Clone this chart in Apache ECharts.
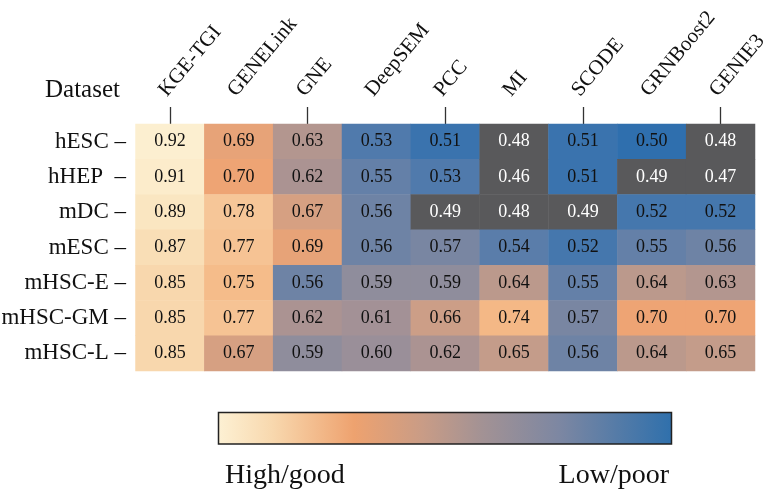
<!DOCTYPE html>
<html>
<head>
<meta charset="utf-8">
<script src="https://cdn.jsdelivr.net/npm/echarts@6.0.0/dist/echarts.min.js"></script>
<style>html,body{margin:0;padding:0;background:#fff}#c{width:766px;height:494px}</style>
</head>
<body>
<div id="c"></div>
<script>
// ---- data ----
const methods = ['KGE-TGI', 'GENELink', 'GNE', 'DeepSEM', 'PCC', 'MI', 'SCODE', 'GRNBoost2', 'GENIE3'];
const datasets = ['hESC', 'hHEP', 'mDC', 'mESC', 'mHSC-E', 'mHSC-GM', 'mHSC-L'];
const rowTickLabels = ['hESC –', 'hHEP  –', 'mDC –', 'mESC –', 'mHSC-E –', 'mHSC-GM –', 'mHSC-L –'];
// values per method, in dataset order
const kgeTgi   = [0.92, 0.91, 0.89, 0.87, 0.85, 0.85, 0.85];
const geneLink = [0.69, 0.70, 0.78, 0.77, 0.75, 0.77, 0.67];
const gne      = [0.63, 0.62, 0.67, 0.69, 0.56, 0.62, 0.59];
const deepSem  = [0.53, 0.55, 0.56, 0.56, 0.59, 0.61, 0.60];
const pcc      = [0.51, 0.53, 0.49, 0.57, 0.59, 0.66, 0.62];
const mi       = [0.48, 0.46, 0.48, 0.54, 0.64, 0.74, 0.65];
const scode    = [0.51, 0.51, 0.49, 0.52, 0.55, 0.57, 0.56];
const grnBoost2= [0.50, 0.49, 0.52, 0.55, 0.64, 0.70, 0.64];
const genie3   = [0.48, 0.47, 0.52, 0.56, 0.63, 0.70, 0.65];
const colorbarLabels = ['High/good', 'Low/poor'];
const scaleMin = 0.44, goodMin = 0.50, scaleMax = 0.92;

// ---- styles ----
const serif = '"Liberation Serif", "Times New Roman", serif';
// colour stops every 0.02 from scaleMin to scaleMax
const rampColors = ['#2f6fae','#2f6fae','#2f6fae',
  '#2f6fae','#4577ad','#5a7daa','#6e83a5','#848a9f','#9a8f99','#ab9392','#bb998c',
  '#cc9e87','#e0a17c','#eea474','#f2ae7c','#f4b886','#f5c08f','#f6c698','#f7cda0','#f7d1a5',
  '#f8d5aa','#f8d9b0','#f9e2bc','#fbe9c6','#fcefd0'];

const columns = [kgeTgi, geneLink, gne, deepSem, pcc, mi, scode, grnBoost2, genie3];
const cells = [];
columns.forEach((col, ci) => col.forEach((v, ri) => {
  cells.push({ value: [ci, ri, v], label: { color: v < goodMin ? '#ffffff' : '#111111' } });
}));

const chart = echarts.init(document.getElementById('c'), null, { renderer: 'canvas' });
chart.setOption({
  animation: false,
  backgroundColor: '#ffffff',
  grid: { left: 135.5, right: 11, top: 124, bottom: 123, containLabel: false, outerBoundsMode: 'none' },
  xAxis: {
    type: 'category', data: methods, position: 'top',
    axisLine: { show: false },
    axisTick: { show: true, alignWithLabel: true, length: 17, lineStyle: { color: '#333', width: 1.3 } },
    axisLabel: { show: false },
    splitLine: { show: false }
  },
  yAxis: {
    type: 'category', data: datasets, inverse: true,
    axisLine: { show: false }, axisTick: { show: false },
    axisLabel: {
      margin: 9.5, fontFamily: serif, fontSize: 23, color: '#111', interval: 0,
      formatter: (val, idx) => rowTickLabels[idx]
    },
    splitLine: { show: false }
  },
  visualMap: {
    type: 'continuous', show: false, dimension: 2,
    min: scaleMin, max: scaleMax, range: [goodMin, scaleMax],
    inRange: { color: rampColors },
    outOfRange: { color: '#59595b' }
  },
  series: [{
    type: 'heatmap', data: cells,
    itemStyle: { borderWidth: 0 },
    label: {
      show: true, fontFamily: serif, fontSize: 18,
      formatter: p => p.value[2].toFixed(2)
    },
    emphasis: { disabled: true }
  }]
});

// rotated column (method) labels, anchored at each category's tick through the x scale
const labelAngle = 50 * Math.PI / 180;
const colLabelEls = methods.map((m, i) => {
  const px = chart.convertToPixel({ xAxisIndex: 0, yAxisIndex: 0 }, [i, 0]);
  return {
    type: 'text', x: px[0] + 1, y: 100.5, rotation: labelAngle,
    style: { text: m, x: 0, y: 0, align: 'left', verticalAlign: 'bottom',
      font: '21px ' + serif, fill: '#111' }
  };
});

chart.setOption({
  graphic: [
    { type: 'text', left: 45, top: 78, style: { text: 'Dataset', font: '25px ' + serif, fill: '#111' } },
    { type: 'rect', shape: { x: 218.5, y: 412.5, width: 453, height: 31.5 },
      style: { stroke: '#222', lineWidth: 1.5,
        fill: new echarts.graphic.LinearGradient(0, 0, 1, 0, [
          { offset: 0, color: '#fdf1d4' }, { offset: 0.12, color: '#f8d8ae' },
          { offset: 0.30, color: '#eea26f' }, { offset: 0.45, color: '#c99c86' },
          { offset: 0.58, color: '#a39294' }, { offset: 0.75, color: '#7d87a2' },
          { offset: 1, color: '#2f70ac' }]) } },
    { type: 'text', left: 225, top: 462, style: { text: colorbarLabels[0], font: '28px ' + serif, fill: '#111' } },
    { type: 'text', right: 97, top: 462, style: { text: colorbarLabels[1], font: '28px ' + serif, fill: '#111' } }
  ].concat(colLabelEls)
});
</script>
</body>
</html>
